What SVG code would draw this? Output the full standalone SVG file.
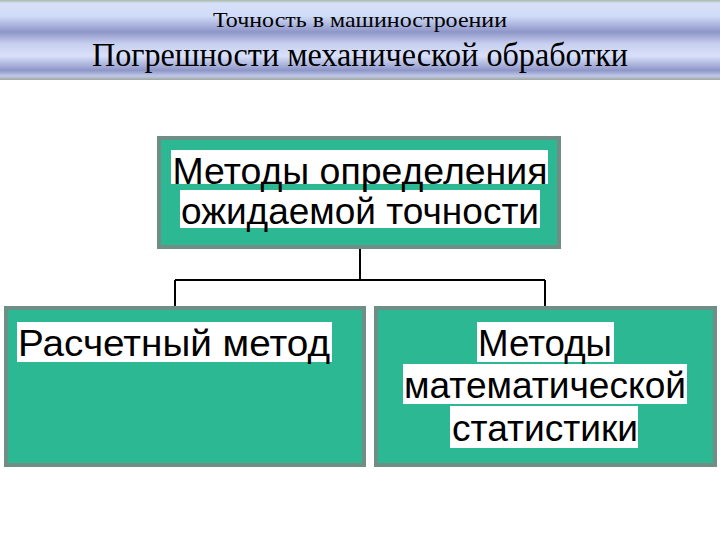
<svg xmlns="http://www.w3.org/2000/svg" width="720" height="540" viewBox="0 0 720 540">
<defs>
<linearGradient id="hdr" x1="0" y1="0" x2="0" y2="1">
<stop offset="0" stop-color="#a8b8a8"/>
<stop offset="0.04" stop-color="#d8e0f8"/>
<stop offset="0.2" stop-color="#d0dcf8"/>
<stop offset="0.4" stop-color="#8e96c8"/>
<stop offset="0.55" stop-color="#c8d0f0"/>
<stop offset="0.7" stop-color="#d8e0fa"/>
<stop offset="0.88" stop-color="#8e96c8"/>
<stop offset="0.95" stop-color="#c0c8e8"/>
<stop offset="1" stop-color="#a0a8a0"/>
</linearGradient>
</defs>
<style>
.box{fill:#2db894;stroke:#6f8f86;stroke-width:4}
.hl{fill:#ffffff}
.t{font-family:"Liberation Sans",Arial,sans-serif;font-size:36px;fill:#000}
.h{font-family:"Liberation Serif","Times New Roman",serif;fill:#000;text-anchor:middle}
.c{stroke:#000;stroke-width:2;fill:none}
</style>
<rect width="720" height="540" fill="#fff"/>
<rect x="0" y="0" width="720" height="80" fill="url(#hdr)"/>
<text class="h" x="360" y="27" font-size="22" textLength="294" lengthAdjust="spacingAndGlyphs">Точность в машиностроении</text>
<text class="h" x="360" y="66" font-size="33" textLength="536" lengthAdjust="spacingAndGlyphs">Погрешности механической обработки</text>
<g id="connectors">
<path class="c" d="M360 247V280M175 280H545M175 280V307M545 280V307"/>
</g>
<g id="top">
<rect class="box" x="159" y="138" width="400" height="109"/>
<rect class="hl" x="171" y="150" width="377" height="34"/>
<rect class="hl" x="180" y="190" width="360" height="38"/>
<text class="t" x="360" y="184" text-anchor="middle" textLength="375" lengthAdjust="spacingAndGlyphs">Методы определения</text>
<text class="t" x="360" y="224" text-anchor="middle" textLength="358" lengthAdjust="spacingAndGlyphs">ожидаемой точности</text>
</g>
<g id="left">
<rect class="box" x="6" y="308" width="358" height="157"/>
<rect class="hl" x="17" y="322" width="315" height="40"/>
<text class="t" x="18" y="356" textLength="312" lengthAdjust="spacingAndGlyphs">Расчетный  метод</text>
</g>
<g id="right">
<rect class="box" x="376" y="308" width="339" height="157"/>
<rect class="hl" x="477" y="322" width="137" height="40"/>
<rect class="hl" x="403" y="364" width="284" height="40"/>
<rect class="hl" x="450" y="406" width="188" height="42"/>
<text class="t" x="545" y="356" text-anchor="middle" textLength="134" lengthAdjust="spacingAndGlyphs">Методы</text>
<text class="t" x="545" y="398" text-anchor="middle" textLength="282" lengthAdjust="spacingAndGlyphs">математической</text>
<text class="t" x="545" y="441" text-anchor="middle" textLength="186" lengthAdjust="spacingAndGlyphs">статистики</text>
</g>
</svg>
